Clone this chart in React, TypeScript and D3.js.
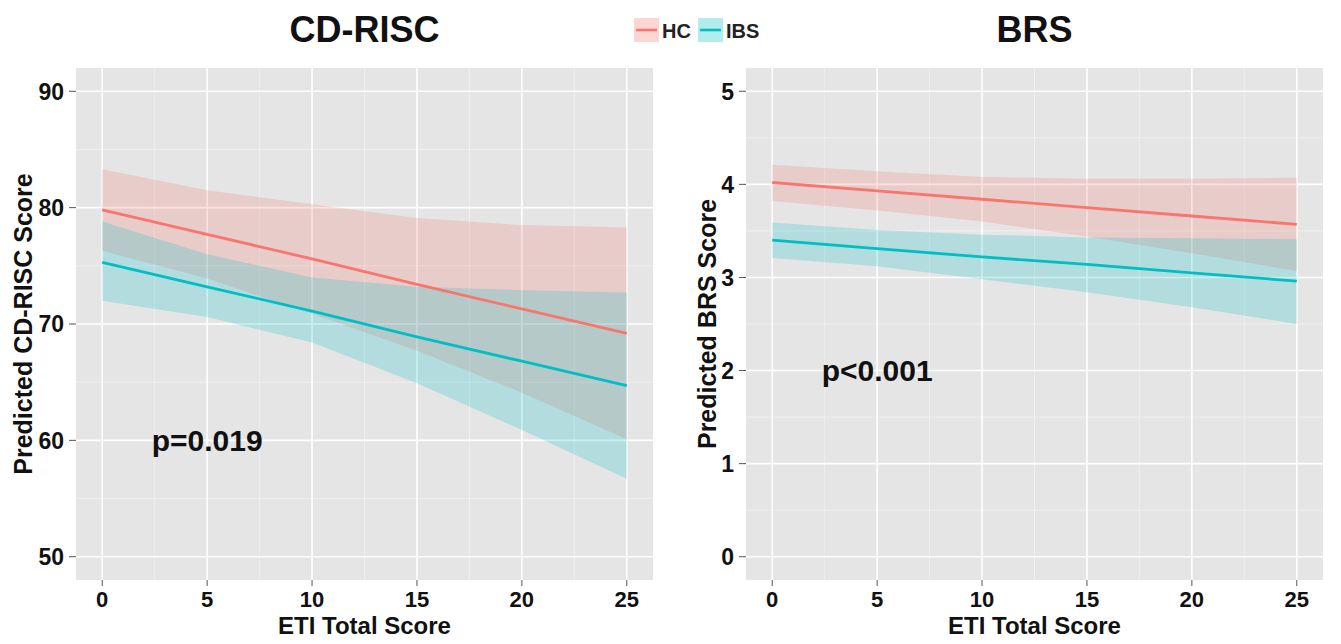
import React from "react";
import * as d3 from "d3";

// ---- data ----
const etiX = [0, 5, 10, 15, 20, 25];
const etiTicks = [0, 5, 10, 15, 20, 25];

const cdHcFit = [79.8, 77.7, 75.6, 73.4, 71.3, 69.2];
const cdHcUpper = [83.3, 81.5, 80.3, 79.1, 78.5, 78.3];
const cdHcLower = [76.3, 73.9, 70.9, 67.7, 64.1, 60.1];
const cdIbsFit = [75.3, 73.2, 71.1, 68.9, 66.8, 64.7];
const cdIbsUpper = [78.8, 76.0, 74.0, 73.2, 72.9, 72.7];
const cdIbsLower = [72.0, 70.6, 68.4, 64.9, 60.9, 56.7];
const cdTicks = [50, 60, 70, 80, 90];

const brsHcFit = [4.02, 3.93, 3.84, 3.75, 3.66, 3.57];
const brsHcUpper = [4.21, 4.14, 4.08, 4.06, 4.06, 4.07];
const brsHcLower = [3.82, 3.72, 3.6, 3.44, 3.26, 3.07];
const brsIbsFit = [3.4, 3.31, 3.22, 3.14, 3.05, 2.96];
const brsIbsUpper = [3.59, 3.51, 3.46, 3.43, 3.42, 3.41];
const brsIbsLower = [3.21, 3.12, 2.98, 2.84, 2.68, 2.5];
const brsTicks = [0, 1, 2, 3, 4, 5];

const groups = ["HC", "IBS"];
const groupColors = ["#F8766D", "#00BFC4"];

const FONT = "'Liberation Sans', Arial, Helvetica, sans-serif";

type Series = { fit: number[]; upper: number[]; lower: number[] };

type PanelProps = {
  left: number;
  title: string;
  yTitle: string;
  yTitleX: number;
  yDomain: [number, number];
  yTicks: number[];
  series: Series[];
  pLabel: string;
  pX: number;
  pY: number;
};

const TOP = 68;
const BOTTOM = 580;
const WIDTH = 577;

function Panel(p: PanelProps) {
  const x = d3.scaleLinear().domain([-1.25, 26.25]).range([p.left, p.left + WIDTH]);
  const y = d3.scaleLinear().domain(p.yDomain).range([BOTTOM, TOP]);
  const step = p.yTicks[1] - p.yTicks[0];
  const minorY = p.yTicks.slice(0, -1).map((t) => t + step / 2);
  const minorYExt = [p.yTicks[0] - step / 2, ...minorY, p.yTicks[p.yTicks.length - 1] + step / 2].filter(
    (v) => v >= p.yDomain[0] && v <= p.yDomain[1]
  );
  const minorX = etiTicks.slice(0, -1).map((t) => t + 2.5);
  const line = d3
    .line<number>()
    .x((_, i) => x(etiX[i]))
    .y((d) => y(d));
  const cx = p.left + WIDTH / 2;
  return (
    <g>
      <rect x={p.left} y={TOP} width={WIDTH} height={BOTTOM - TOP} fill="#E5E5E5" />
      {minorYExt.map((v) => (
        <line key={"my" + v} x1={p.left} x2={p.left + WIDTH} y1={y(v)} y2={y(v)} stroke="#F2F2F2" strokeWidth={0.8} />
      ))}
      {minorX.map((v) => (
        <line key={"mx" + v} x1={x(v)} x2={x(v)} y1={TOP} y2={BOTTOM} stroke="#F2F2F2" strokeWidth={0.8} />
      ))}
      {p.yTicks.map((v) => (
        <line key={"gy" + v} x1={p.left} x2={p.left + WIDTH} y1={y(v)} y2={y(v)} stroke="#FFFFFF" strokeWidth={1.6} />
      ))}
      {etiTicks.map((v) => (
        <line key={"gx" + v} x1={x(v)} x2={x(v)} y1={TOP} y2={BOTTOM} stroke="#FFFFFF" strokeWidth={1.6} />
      ))}
      {p.series.map((s, gi) => {
        const a = d3
          .area<number>()
          .x((_, i) => x(etiX[i]))
          .y0((_, i) => y(s.lower[i]))
          .y1((_, i) => y(s.upper[i]));
        return <path key={"r" + gi} d={a(s.fit) || ""} fill={groupColors[gi]} fillOpacity={0.22} />;
      })}
      {p.series.map((s, gi) => (
        <path key={"l" + gi} d={line(s.fit) || ""} fill="none" stroke={groupColors[gi]} strokeWidth={2.8} />
      ))}
      {p.yTicks.map((v) => (
        <g key={"ty" + v}>
          <line x1={p.left - 7} x2={p.left} y1={y(v)} y2={y(v)} stroke="#555" strokeWidth={1} />
          <text
            x={p.left - 12}
            y={y(v)}
            dy="0.36em"
            textAnchor="end"
            fontFamily={FONT}
            fontWeight="bold"
            fontSize={23}
            fill="#111"
          >
            {v}
          </text>
        </g>
      ))}
      {etiTicks.map((v) => (
        <g key={"tx" + v}>
          <line x1={x(v)} x2={x(v)} y1={BOTTOM} y2={BOTTOM + 6} stroke="#555" strokeWidth={1} />
          <text x={x(v)} y={607} textAnchor="middle" fontFamily={FONT} fontWeight="bold" fontSize={22} fill="#111">
            {v}
          </text>
        </g>
      ))}
      <text x={cx} y={634} textAnchor="middle" fontFamily={FONT} fontWeight="bold" fontSize={24} fill="#111">
        ETI Total Score
      </text>
      <text
        transform={`translate(${p.yTitleX},${(TOP + BOTTOM) / 2}) rotate(-90)`}
        textAnchor="middle"
        fontFamily={FONT}
        fontWeight="bold"
        fontSize={25}
        fill="#111"
      >
        {p.yTitle}
      </text>
      <text x={cx} y={42} textAnchor="middle" fontFamily={FONT} fontWeight="bold" fontSize={36} fill="#111">
        {p.title}
      </text>
      <text
        x={x(p.pX)}
        y={y(p.pY)}
        dy="0.36em"
        textAnchor="middle"
        fontFamily={FONT}
        fontWeight="bold"
        fontSize={30}
        fill="#111"
      >
        {p.pLabel}
      </text>
    </g>
  );
}

export default function App() {
  const keyX = [634, 698];
  const textX = [662, 726];
  return (
    <svg
      width={1341}
      height={644}
      style={{ position: "absolute", left: 0, top: 0, display: "block" }}
      xmlns="http://www.w3.org/2000/svg"
    >
      <rect x={0} y={0} width={1341} height={644} fill="#FFFFFF" />
      <Panel
        left={76}
        title="CD-RISC"
        yTitle="Predicted CD-RISC Score"
        yTitleX={32}
        yDomain={[48, 92]}
        yTicks={cdTicks}
        series={[
          { fit: cdHcFit, upper: cdHcUpper, lower: cdHcLower },
          { fit: cdIbsFit, upper: cdIbsUpper, lower: cdIbsLower },
        ]}
        pLabel="p=0.019"
        pX={5}
        pY={60}
      />
      <Panel
        left={746}
        title="BRS"
        yTitle="Predicted BRS Score"
        yTitleX={716}
        yDomain={[-0.25, 5.25]}
        yTicks={brsTicks}
        series={[
          { fit: brsHcFit, upper: brsHcUpper, lower: brsHcLower },
          { fit: brsIbsFit, upper: brsIbsUpper, lower: brsIbsLower },
        ]}
        pLabel="p<0.001"
        pX={5}
        pY={2}
      />
      {groups.map((g, i) => (
        <g key={g}>
          <rect x={keyX[i]} y={18} width={25} height={24} fill={groupColors[i]} fillOpacity={0.3} />
          <line x1={keyX[i] + 2} x2={keyX[i] + 23} y1={30} y2={30} stroke={groupColors[i]} strokeWidth={2.6} />
          <text x={textX[i]} y={38} fontFamily={FONT} fontWeight="bold" fontSize={20} fill="#222">
            {g}
          </text>
        </g>
      ))}
    </svg>
  );
}
